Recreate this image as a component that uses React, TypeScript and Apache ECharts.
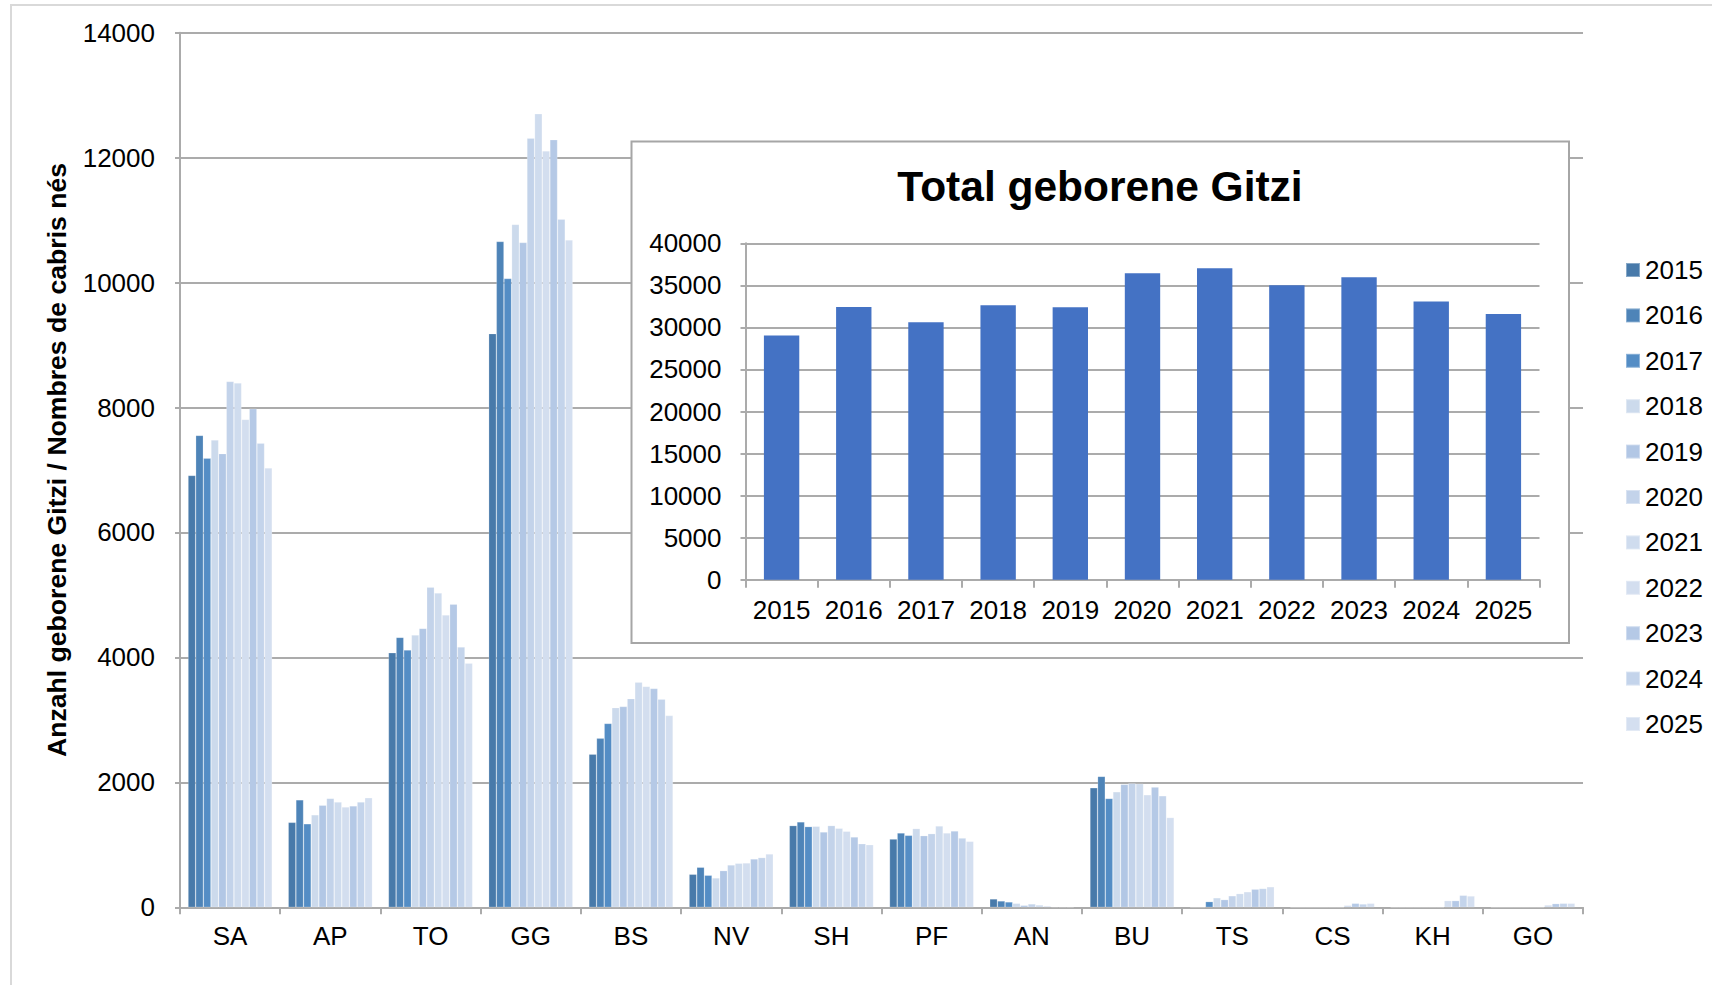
import React, { useEffect, useRef } from "react";
import * as echarts from "echarts";

const categories = ["SA", "AP", "TO", "GG", "BS", "NV", "SH", "PF", "AN", "BU", "TS", "CS", "KH", "GO"];
const years = ["2015", "2016", "2017", "2018", "2019", "2020", "2021", "2022", "2023", "2024", "2025"];

const y2015 = [6914, 1360, 4075, 9184, 2451, 529, 1308, 1093, 134, 1914, 0, 0, 0, 0];
const y2016 = [7554, 1720, 4321, 10659, 2705, 641, 1367, 1190, 102, 2096, 0, 0, 0, 0];
const y2017 = [7188, 1337, 4118, 10066, 2943, 513, 1292, 1152, 86, 1742, 91, 0, 0, 0];
const y2018 = [7480, 1480, 4358, 10931, 3197, 470, 1297, 1260, 64, 1849, 152, 0, 0, 0];
const y2019 = [7263, 1634, 4465, 10642, 3214, 587, 1206, 1147, 32, 1968, 123, 0, 0, 0];
const y2020 = [8417, 1743, 5123, 12313, 3341, 678, 1308, 1179, 54, 1984, 184, 0, 0, 0];
const y2021 = [8394, 1686, 5032, 12703, 3604, 705, 1265, 1302, 38, 1979, 219, 0, 0, 0];
const y2022 = [7811, 1606, 4679, 12109, 3536, 710, 1217, 1190, 21, 1801, 248, 32, 107, 37];
const y2023 = [7983, 1623, 4851, 12288, 3502, 774, 1126, 1222, 10, 1925, 290, 64, 107, 59];
const y2024 = [7428, 1686, 4166, 11016, 3333, 796, 1018, 1109, 8, 1785, 301, 53, 192, 64];
const y2025 = [7034, 1754, 3909, 10685, 3070, 854, 1002, 1056, 5, 1437, 328, 64, 181, 64];

const totals = [29025, 32434, 30610, 32633, 32395, 36439, 37034, 35012, 35964, 33069, 31602];

const mainTicks = [0, 2000, 4000, 6000, 8000, 10000, 12000, 14000];
const insetTicks = [0, 5000, 10000, 15000, 20000, 25000, 30000, 35000, 40000];

const yearValues = [y2015, y2016, y2017, y2018, y2019, y2020, y2021, y2022, y2023, y2024, y2025];
const yearColors = [
  "#487AAA", "#4E84B8", "#548DC5", "#CCDAEC", "#B2C7E5", "#C3D3EA",
  "#CFDCEE", "#D3DEEF", "#B5C9E6", "#C4D4EB", "#D4DFF0",
];

const FONT = "'Liberation Sans', Arial, Helvetica, sans-serif";
const GRID_GRAY = "#ABABAB";
const plain = (v: number) => String(v);

export default function App() {
  const ref = useRef<HTMLDivElement>(null);
  useEffect(() => {
    if (!ref.current) return;
    const chart = echarts.init(ref.current, null, { renderer: "svg" });
    const mainSeries = years.map((y, i) => ({
      name: y,
      type: "bar",
      xAxisIndex: 0,
      yAxisIndex: 0,
      data: yearValues[i],
      barGap: "0%",
      barCategoryGap: "16%",
      itemStyle: { color: yearColors[i], borderColor: "rgba(255,255,255,0.35)", borderWidth: 0.6 },
      z: 2,
    }));
    const option: any = {
      animation: false,
      backgroundColor: "#fff",
      textStyle: { fontFamily: FONT },
      grid: [
        { left: 180, right: 129, top: 32.75, bottom: 77.7, containLabel: false },
        { left: 745.5, right: 172.5, top: 243.3, bottom: 405.3, containLabel: false, z: 5 },
      ],
      legend: {
        data: years,
        orient: "vertical",
        left: 1620,
        top: 252,
        itemWidth: 14,
        itemHeight: 14,
        itemGap: 19.4,
        icon: "rect",
        selectedMode: false,
        textStyle: { fontSize: 26, lineHeight: 26, color: "#000", fontFamily: FONT },
      },
      xAxis: [
        {
          type: "category",
          gridIndex: 0,
          data: categories,
          axisLine: { lineStyle: { color: GRID_GRAY, width: 2 } },
          axisTick: { show: true, interval: 0, length: 7, lineStyle: { color: GRID_GRAY, width: 2 } },
          axisLabel: { fontSize: 26, color: "#000", margin: 16, fontFamily: FONT, interval: 0 },
          z: 0,
        },
        {
          type: "category",
          gridIndex: 1,
          data: years,
          axisLine: { lineStyle: { color: GRID_GRAY, width: 2 } },
          axisTick: { show: true, interval: 0, length: 8, lineStyle: { color: GRID_GRAY, width: 2 } },
          axisLabel: { fontSize: 26, color: "#000", margin: 17, fontFamily: FONT, interval: 0 },
          z: 6,
        },
      ],
      yAxis: [
        {
          type: "value",
          gridIndex: 0,
          min: mainTicks[0],
          max: mainTicks[mainTicks.length - 1],
          interval: 2000,
          axisLine: { show: true, lineStyle: { color: GRID_GRAY, width: 2 } },
          axisTick: { show: true, length: 5, lineStyle: { color: GRID_GRAY, width: 2 } },
          splitLine: { show: true, lineStyle: { color: GRID_GRAY, width: 2 } },
          axisLabel: { fontSize: 26, color: "#000", margin: 25, fontFamily: FONT, formatter: plain },
          z: 0,
        },
        {
          type: "value",
          gridIndex: 1,
          min: insetTicks[0],
          max: insetTicks[insetTicks.length - 1],
          interval: 5000,
          axisLine: { show: true, lineStyle: { color: GRID_GRAY, width: 2 } },
          axisTick: { show: true, length: 5, lineStyle: { color: GRID_GRAY, width: 2 } },
          splitLine: { show: true, lineStyle: { color: GRID_GRAY, width: 2 } },
          axisLabel: { fontSize: 26, color: "#000", margin: 24, fontFamily: FONT, formatter: plain },
          z: 6,
        },
      ],
      graphic: [
        {
          type: "rect",
          z: 1,
          silent: true,
          shape: { x: 11, y: 5, width: 1800, height: 1200 },
          style: { fill: "none", stroke: "#D9D9D9", lineWidth: 2 },
        },
        {
          type: "rect",
          z: 3,
          silent: true,
          shape: { x: 631.5, y: 141.5, width: 937.5, height: 501.5 },
          style: { fill: "#fff", stroke: "#A6A6A6", lineWidth: 2 },
        },
        {
          type: "text",
          z: 10,
          silent: true,
          x: 1100,
          y: 186,
          style: {
            text: "Total geborene Gitzi",
            fontSize: 42.5,
            fontWeight: "bold",
            fontFamily: FONT,
            fill: "#000",
            align: "center",
            verticalAlign: "middle",
          },
        },
        {
          type: "text",
          z: 10,
          silent: true,
          x: 57,
          y: 460,
          rotation: Math.PI / 2,
          style: {
            text: "Anzahl geborene Gitzi / Nombres de cabris nés",
            fontSize: 26.6,
            fontWeight: "bold",
            fontFamily: FONT,
            fill: "#000",
            align: "center",
            verticalAlign: "middle",
          },
        },
      ],
      series: [
        ...mainSeries,
        {
          name: "Total",
          type: "bar",
          xAxisIndex: 1,
          yAxisIndex: 1,
          data: totals,
          barWidth: "49%",
          itemStyle: { color: "#4472C4" },
          z: 8,
        },
      ],
    };
    chart.setOption(option);
    return () => chart.dispose();
  }, []);
  return <div ref={ref} style={{ position: "absolute", left: 0, top: 0, width: 1712, height: 985 }} />;
}
